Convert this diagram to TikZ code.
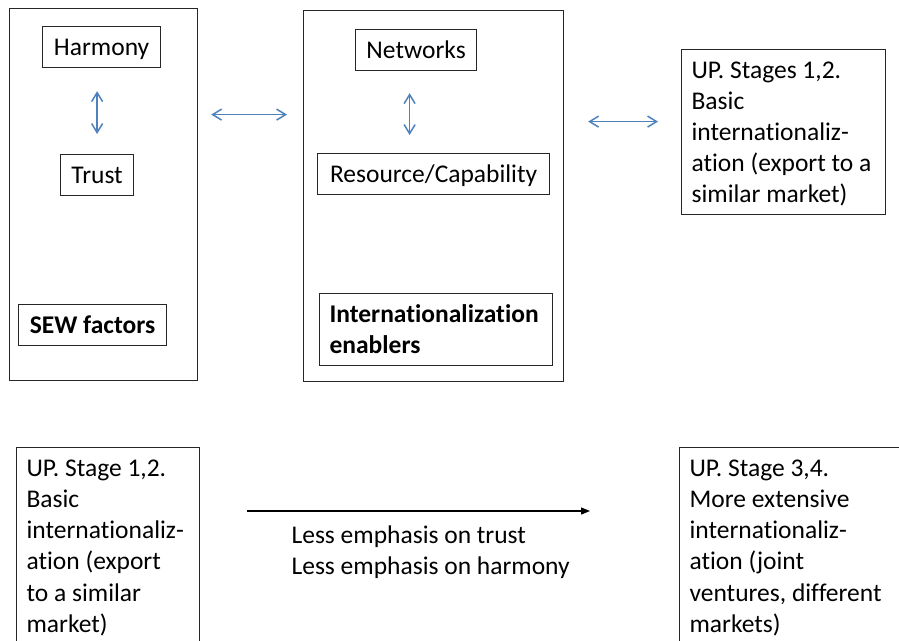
\documentclass[tikz,border=0pt]{standalone}
\usepackage{fontspec}
\setmainfont{Carlito}[Ligatures=NoCommon]
\usetikzlibrary{arrows.meta}
\definecolor{linkblue}{RGB}{79,129,189}

\begin{document}
\begin{tikzpicture}[x=0.5pt,y=-0.5pt,
		panel/.style={draw=black!85,line width=0.6pt,anchor=north west,inner sep=0pt},
		blurb/.style={draw=black!85,line width=0.6pt,anchor=north west,inner xsep=5pt,inner ysep=2.4pt,align=flush left,
			font=\fontsize{12.75pt}{15.55pt}\selectfont,
			execute at begin node={\rule{0pt}{12.1pt}},
			execute at end node={\rule[-3.4pt]{0pt}{3.4pt}}},
		tag/.style={blurb,align=center,minimum height=20.5pt},
		link/.style={draw=linkblue,line width=0.75pt,{Straight Barb[length=4.5pt,width=5.5pt]}-{Straight Barb[length=4.5pt,width=5.5pt]}},
		flow/.style={draw=black,line width=0.6pt,-{Triangle[length=4.5pt,width=3.5pt]}}]
				\useasboundingbox (0,0) rectangle (899,641);
				\clip (0,0) rectangle (899,641);
				\node[panel,minimum width=94pt,minimum height=186pt] (sewbox) at (9,8) {};
				\node[tag,minimum width=59pt] (harmony) at (42,26) {Harmony};
				\node[tag,minimum width=36.5pt] (trust) at (60,154) {Trust};
				\node[tag,minimum width=74pt] (sew) at (18,304) {\textbf{SEW factors}};
				\node[panel,minimum width=130pt,minimum height=185.5pt] (enabbox) at (303,10) {};
				\node[tag,minimum width=60.5pt] (networks) at (355,29) {Networks};
				\node[tag,minimum width=116pt] (resource) at (317,153) {Resource/Capability};
				\node[blurb,text width=106.5pt,minimum height=36pt] (enablers) at (319,293) {\textbf{Internationalization}\\\textbf{enablers}};
				\node[blurb,text width=92pt,minimum height=82.5pt] (stage12) at (681,49) {UP. Stages 1,2.\\Basic\\internationaliz-\\ation (export to a\\similar market)};
				\node[blurb,text width=81.5pt] (early) at (16,447) {UP. Stage 1,2.\\Basic\\internationaliz-\\ation (export\\to a similar\\market)};
				\node[blurb,text width=103pt] (later) at (679,447) {UP. Stage 3,4.\\More extensive\\internationaliz-\\ation (joint\\ventures, different\\markets)};
				\node[blurb,draw=none,inner sep=0pt] (note) at (291,524.8) {Less emphasis on trust\\Less emphasis on harmony};
				\draw[link,shorten <=11.5pt,shorten >=10pt] (harmony.south -| trust.north) -- (trust.north);
				\draw[link,shorten <=11pt,shorten >=9pt] ([xshift=-3.25pt]networks.south) -- ([xshift=-3.25pt]networks.south |- resource.north);
				\draw[link,shorten <=6.5pt,shorten >=8pt] ([yshift=40pt]sewbox.east) -- ([yshift=40pt]sewbox.east -| enabbox.west);
				\draw[link,shorten <=12pt,shorten >=11.5pt] ([yshift=37.25pt]enabbox.east) -- ([yshift=37.25pt]enabbox.east -| stage12.west);
				\draw[flow,shorten <=23.5pt,shorten >=44.5pt] ([yshift=-32pt]early.north east) -- ([yshift=-32pt]early.north east -| later.west);
			\end{tikzpicture}
\end{document}
